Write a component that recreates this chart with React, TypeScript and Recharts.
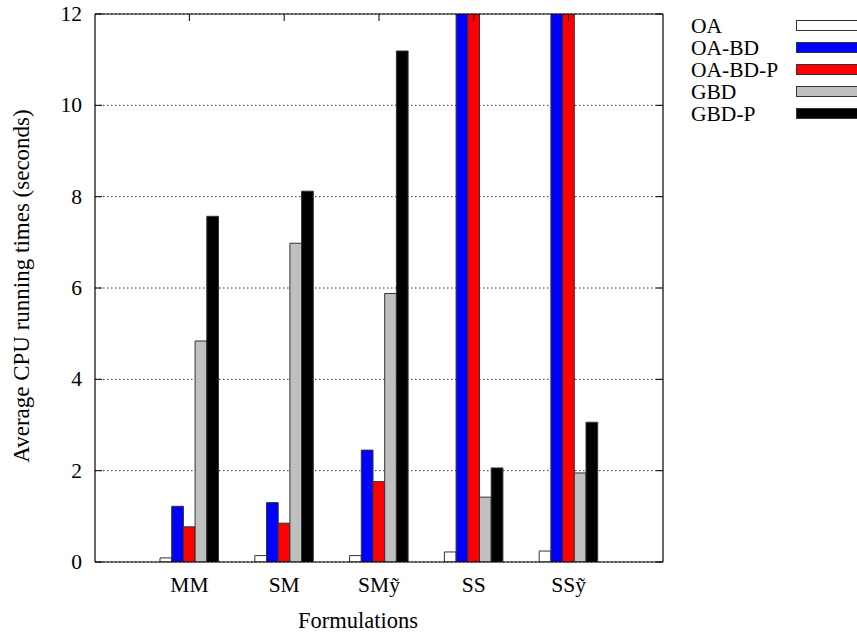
import React from 'react';
import { BarChart, Bar, XAxis, YAxis, CartesianGrid, Legend, Label } from 'recharts';

// running times per formulation, in seconds
const formulations = ['MM', 'SM', 'SMỹ', 'SS', 'SSỹ'];
const oaTimes = [0.09, 0.14, 0.14, 0.22, 0.24];
const oaBdTimes = [1.22, 1.3, 2.45, 16, 16];
const oaBdPTimes = [0.77, 0.85, 1.76, 16, 16];
const gbdTimes = [4.84, 6.98, 5.88, 1.42, 1.95];
const gbdPTimes = [7.57, 8.12, 11.19, 2.06, 3.06];
const yTicks = [0, 2, 4, 6, 8, 10, 12];

const FONT = '"Liberation Serif", "Times New Roman", serif';
const EDGE = '#333';

const series = [
  { key: 'oa', name: 'OA', fill: '#ffffff', values: oaTimes },
  { key: 'oaBd', name: 'OA-BD', fill: '#0000ff', values: oaBdTimes },
  { key: 'oaBdP', name: 'OA-BD-P', fill: '#ff0000', values: oaBdPTimes },
  { key: 'gbd', name: 'GBD', fill: '#c0c0c0', values: gbdTimes },
  { key: 'gbdP', name: 'GBD-P', fill: '#000000', values: gbdPTimes },
];

const data = formulations.map((name, i) => {
  const row: Record<string, string | number> = { name };
  series.forEach((s) => {
    row[s.key] = s.values[i];
  });
  return row;
});

// tick label below the axis, no tick mark
const BottomTick = (props: any) => {
  const { x, y, payload } = props;
  return (
    <text x={x} y={y + 23} textAnchor="middle" dominantBaseline="central" fontFamily={FONT} fontSize={21.5} fill="#000">
      {payload.value}
    </text>
  );
};

// inward tick marks on the top border
const TopTick = (props: any) => {
  const { x, y } = props;
  return <line x1={x} x2={x} y1={y} y2={y + 7} stroke="#000" strokeWidth={1} />;
};

// label on the left plus an inward tick mark
const LeftTick = (props: any) => {
  const { x, y, payload } = props;
  return (
    <g>
      <line x1={x + 13} x2={x + 20} y1={y} y2={y} stroke="#000" strokeWidth={1} />
      <text x={x} y={y} textAnchor="end" dominantBaseline="central" fontFamily={FONT} fontSize={21.5} fill="#000">
        {payload.value}
      </text>
    </g>
  );
};

const RightTick = (props: any) => {
  const { x, y } = props;
  return <line x1={x} x2={x - 7} y1={y} y2={y} stroke="#000" strokeWidth={1} />;
};

const renderLegend = () => (
  <svg width={167} height={130} style={{ display: 'block' }}>
    {series.map((s, i) => {
      const cy = 11.5 + i * 22;
      return (
        <g key={s.key}>
          <text x={1} y={cy} dominantBaseline="central" fontFamily={FONT} fontSize={21.5} fill="#000">
            {s.name}
          </text>
          <rect x={106.5} y={cy - 5} width={62} height={10} fill={s.fill} stroke={EDGE} strokeWidth={1} />
        </g>
      );
    })}
  </svg>
);

export default function App() {
  return (
    <div style={{ position: 'absolute', left: 0, top: 0, background: '#fff' }}>
      <BarChart
        width={857}
        height={632}
        data={data}
        margin={{ top: 13, right: 193, bottom: 0, left: 0 }}
        barSize={11.7}
        barGap={0}
      >
        <CartesianGrid
          xAxisId="bottom"
          yAxisId="left"
          vertical={false}
          stroke="#333"
          strokeDasharray="1.5 2.5"
        />
        <XAxis
          xAxisId="bottom"
          dataKey="name"
          height={70}
          padding={{ left: 47, right: 47 }}
          tickLine={false}
          tickSize={0}
          tickMargin={0}
          axisLine={{ stroke: '#000', strokeWidth: 1.2 }}
          tick={<BottomTick />}
          interval={0}
        >
          <Label
            content={(props: any) => {
              const vb = props.viewBox;
              return (
                <text
                  x={vb.x + vb.width / 2 - 21}
                  y={vb.y + 58}
                  textAnchor="middle"
                  dominantBaseline="central"
                  fontFamily={FONT}
                  fontSize={22.5}
                  fill="#000"
                >
                  Formulations
                </text>
              );
            }}
          />
        </XAxis>
        <XAxis
          xAxisId="top"
          dataKey="name"
          orientation="top"
          height={1}
          padding={{ left: 47, right: 47 }}
          tickLine={false}
          tickSize={0}
          tickMargin={0}
          axisLine={{ stroke: '#000', strokeWidth: 1.2 }}
          tick={<TopTick />}
          interval={0}
        />
        <YAxis
          yAxisId="left"
          width={95}
          domain={[0, 12]}
          ticks={yTicks}
          allowDataOverflow
          tickLine={false}
          tickSize={0}
          tickMargin={13}
          axisLine={{ stroke: '#000', strokeWidth: 1.2 }}
          tick={<LeftTick />}
        >
          <Label
            content={(props: any) => {
              const vb = props.viewBox;
              const cx = vb.x + 21;
              const cy = vb.y + vb.height / 2 - 2;
              return (
                <text
                  x={cx}
                  y={cy}
                  transform={`rotate(-90, ${cx}, ${cy})`}
                  textAnchor="middle"
                  dominantBaseline="central"
                  fontFamily={FONT}
                  fontSize={23}
                  fill="#000"
                >
                  Average CPU running times (seconds)
                </text>
              );
            }}
          />
        </YAxis>
        <YAxis
          yAxisId="right"
          orientation="right"
          width={1}
          domain={[0, 12]}
          ticks={yTicks}
          allowDataOverflow
          tickLine={false}
          tickSize={0}
          tickMargin={0}
          axisLine={{ stroke: '#000', strokeWidth: 1.2 }}
          tick={<RightTick />}
        />
        <Legend
          layout="vertical"
          align="center"
          verticalAlign="middle"
          wrapperStyle={{ left: 690, top: 14, width: 167, height: 130 }}
          content={renderLegend}
        />
        {series.map((s) => (
          <Bar
            key={s.key}
            xAxisId="bottom"
            yAxisId="left"
            dataKey={s.key}
            name={s.name}
            fill={s.fill}
            stroke={EDGE}
            strokeWidth={1}
            isAnimationActive={false}
          />
        ))}
      </BarChart>
    </div>
  );
}
